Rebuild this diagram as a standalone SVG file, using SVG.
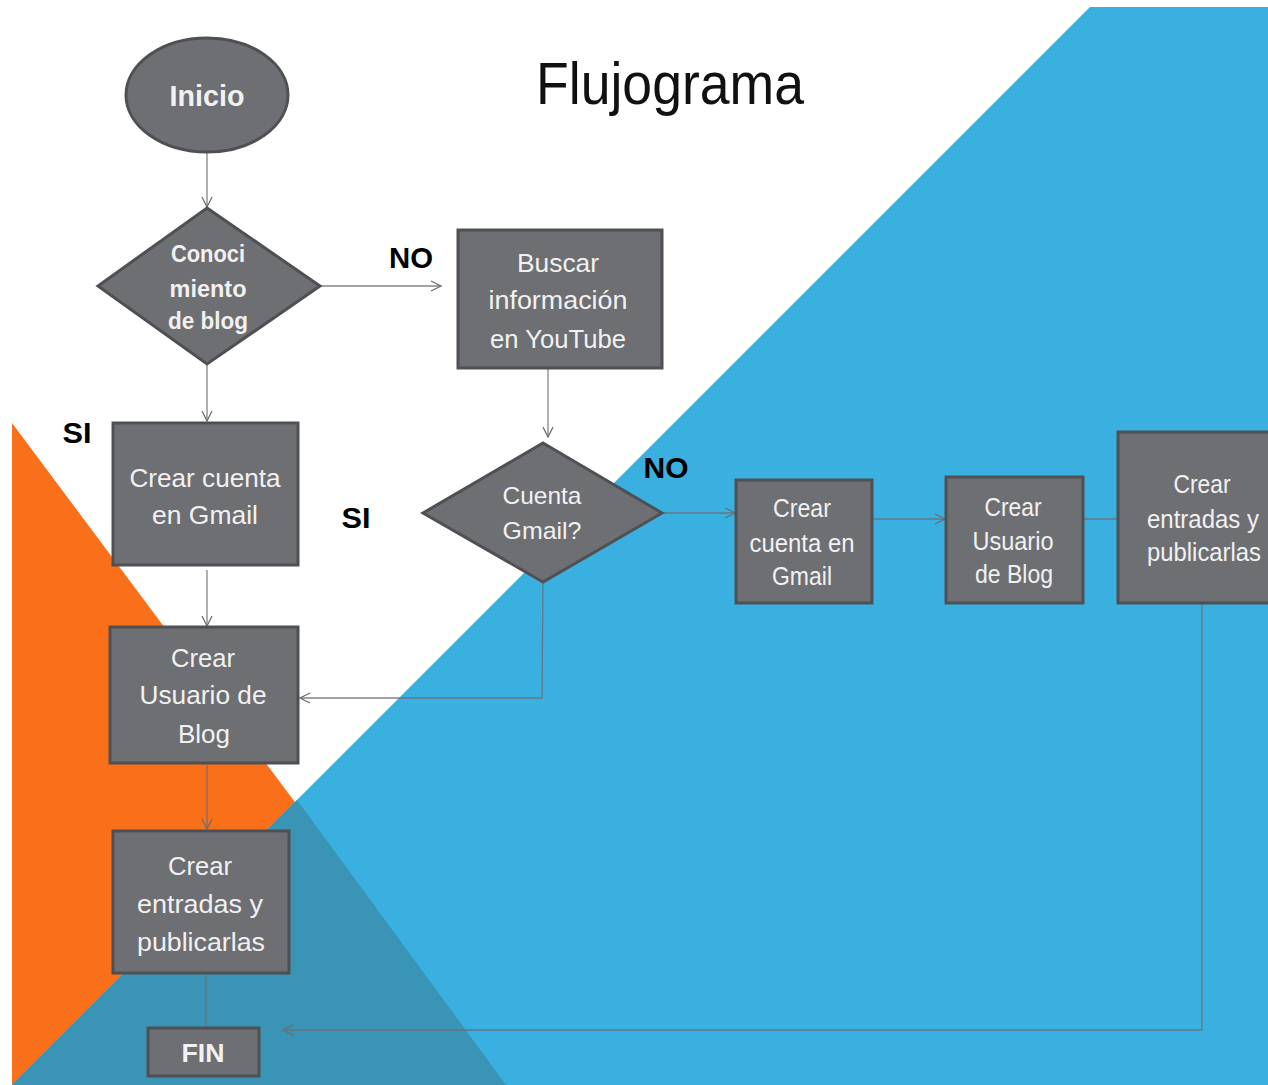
<svg xmlns="http://www.w3.org/2000/svg" width="1268" height="1085" viewBox="0 0 1268 1085">
<defs>
<style>
.bg-white{fill:#ffffff}
.node{fill:#6e6f73;stroke:#4f5053;stroke-width:3}
.t{font-family:"Liberation Sans Narrow","Liberation Sans",Arial,sans-serif;fill:#f1f1f1;text-anchor:middle}
.b{font-weight:bold}
.lbl{font-family:"Liberation Sans",Arial,sans-serif;font-weight:bold;fill:#000;text-anchor:middle}
.title{font-family:"Liberation Sans Narrow","Liberation Sans",Arial,sans-serif;fill:#111;text-anchor:middle}
.conn{fill:none;stroke:#6b6e72;stroke-width:1.3;stroke-opacity:0.85}
</style>
<marker id="arr" viewBox="0 0 12 12" refX="11" refY="6" markerWidth="12" markerHeight="12" markerUnits="userSpaceOnUse" orient="auto">
<path d="M1,1 L11,6 L1,11" fill="none" stroke="#6b6e72" stroke-width="1.3"/>
</marker>
</defs>

<g id="background">
<rect x="0" y="0" width="1268" height="1085" fill="#ffffff"/>
<polygon points="12,423 12,1085 506,1085" fill="#f96f1a"/>
<polygon points="1090,7 1268,7 1268,1085 12,1085 1090,7" fill="#39b0e0"/>
<polygon points="297,800 506,1085 12,1085" fill="#3a94b5"/>
</g>

<text class="title" x="670" y="104" font-size="60" textLength="268" lengthAdjust="spacingAndGlyphs">Flujograma</text>

<g id="connectors">
<line class="conn" x1="207" y1="152" x2="207" y2="207" marker-end="url(#arr)"/>
<line class="conn" x1="320" y1="286" x2="441" y2="286" marker-end="url(#arr)"/>
<line class="conn" x1="207" y1="364" x2="207" y2="421" marker-end="url(#arr)"/>
<line class="conn" x1="548" y1="368" x2="548" y2="437" marker-end="url(#arr)"/>
<line class="conn" x1="207" y1="570" x2="207" y2="626" marker-end="url(#arr)"/>
<polyline class="conn" points="543,582 542,698 300,698" marker-end="url(#arr)"/>
<line class="conn" x1="207" y1="765" x2="207" y2="829" marker-end="url(#arr)"/>
<line class="conn" x1="206" y1="973" x2="206" y2="1027"/>
<line class="conn" x1="662" y1="513" x2="735" y2="513" marker-end="url(#arr)"/>
<line class="conn" x1="872" y1="519" x2="945" y2="519" marker-end="url(#arr)"/>
<line class="conn" x1="1083" y1="519" x2="1118" y2="519"/>
<polyline class="conn" points="1202,603 1202,1030 283,1030" marker-end="url(#arr)"/>
</g>

<g id="labels">
<text class="lbl" x="411" y="268" font-size="30" textLength="44" lengthAdjust="spacingAndGlyphs">NO</text>
<text class="lbl" x="666" y="478" font-size="30" textLength="45" lengthAdjust="spacingAndGlyphs">NO</text>
<text class="lbl" x="77" y="443" font-size="30" textLength="29" lengthAdjust="spacingAndGlyphs">SI</text>
<text class="lbl" x="356" y="528" font-size="30" textLength="29" lengthAdjust="spacingAndGlyphs">SI</text>
</g>

<g id="n-inicio">
<ellipse class="node" cx="207" cy="95" rx="81" ry="57"/>
<text class="t b" x="207" y="106" font-size="30" textLength="75" lengthAdjust="spacingAndGlyphs">Inicio</text>
</g>

<g id="n-conocimiento">
<polygon class="node" points="207,208 320,286 207,364 98,286"/>
<text class="t b" x="208" y="262" font-size="24" textLength="74" lengthAdjust="spacingAndGlyphs">Conoci</text>
<text class="t b" x="208" y="297" font-size="24" textLength="77" lengthAdjust="spacingAndGlyphs">miento</text>
<text class="t b" x="208" y="329" font-size="24" textLength="80" lengthAdjust="spacingAndGlyphs">de blog</text>
</g>

<g id="n-buscar">
<rect class="node" x="458" y="230" width="204" height="138"/>
<text class="t" x="558" y="272" font-size="26" textLength="82" lengthAdjust="spacingAndGlyphs">Buscar</text>
<text class="t" x="558" y="309" font-size="26" textLength="139" lengthAdjust="spacingAndGlyphs">información</text>
<text class="t" x="558" y="348" font-size="26" textLength="136" lengthAdjust="spacingAndGlyphs">en YouTube</text>
</g>

<g id="n-cuenta-gmail">
<polygon class="node" points="543,443 662,513 543,582 423,513"/>
<text class="t" x="542" y="504" font-size="24" textLength="79" lengthAdjust="spacingAndGlyphs">Cuenta</text>
<text class="t" x="542" y="539" font-size="24" textLength="79" lengthAdjust="spacingAndGlyphs">Gmail?</text>
</g>

<g id="n-crear-cuenta-1">
<rect class="node" x="113" y="423" width="185" height="142"/>
<text class="t" x="205" y="487" font-size="26" textLength="151" lengthAdjust="spacingAndGlyphs">Crear cuenta</text>
<text class="t" x="205" y="524" font-size="26" textLength="106" lengthAdjust="spacingAndGlyphs">en Gmail</text>
</g>

<g id="n-crear-usuario-1">
<rect class="node" x="110" y="627" width="188" height="136"/>
<text class="t" x="203" y="667" font-size="26" textLength="64" lengthAdjust="spacingAndGlyphs">Crear</text>
<text class="t" x="203" y="704" font-size="26" textLength="127" lengthAdjust="spacingAndGlyphs">Usuario de</text>
<text class="t" x="204" y="743" font-size="26" textLength="52" lengthAdjust="spacingAndGlyphs">Blog</text>
</g>

<g id="n-crear-entradas-1">
<rect class="node" x="113" y="831" width="176" height="142"/>
<text class="t" x="200" y="875" font-size="26" textLength="64" lengthAdjust="spacingAndGlyphs">Crear</text>
<text class="t" x="200" y="913" font-size="26" textLength="126" lengthAdjust="spacingAndGlyphs">entradas y</text>
<text class="t" x="201" y="951" font-size="26" textLength="128" lengthAdjust="spacingAndGlyphs">publicarlas</text>
</g>

<g id="n-fin">
<rect class="node" x="148" y="1028" width="111" height="48"/>
<text class="t b" x="203" y="1062" font-size="26" textLength="43" lengthAdjust="spacingAndGlyphs">FIN</text>
</g>

<g id="n-crear-cuenta-2">
<rect class="node" x="736" y="480" width="136" height="123"/>
<text class="t" x="802" y="517" font-size="25" textLength="58" lengthAdjust="spacingAndGlyphs">Crear</text>
<text class="t" x="802" y="552" font-size="25" textLength="105" lengthAdjust="spacingAndGlyphs">cuenta en</text>
<text class="t" x="802" y="585" font-size="25" textLength="60" lengthAdjust="spacingAndGlyphs">Gmail</text>
</g>

<g id="n-crear-usuario-2">
<rect class="node" x="946" y="477" width="137" height="126"/>
<text class="t" x="1013" y="516" font-size="25" textLength="57" lengthAdjust="spacingAndGlyphs">Crear</text>
<text class="t" x="1013" y="550" font-size="25" textLength="81" lengthAdjust="spacingAndGlyphs">Usuario</text>
<text class="t" x="1014" y="583" font-size="25" textLength="78" lengthAdjust="spacingAndGlyphs">de Blog</text>
</g>

<g id="n-crear-entradas-2">
<rect class="node" x="1118" y="432" width="156" height="171"/>
<text class="t" x="1202" y="493" font-size="25" textLength="57" lengthAdjust="spacingAndGlyphs">Crear</text>
<text class="t" x="1203" y="528" font-size="25" textLength="112" lengthAdjust="spacingAndGlyphs">entradas y</text>
<text class="t" x="1204" y="561" font-size="25" textLength="114" lengthAdjust="spacingAndGlyphs">publicarlas</text>
</g>
</svg>
